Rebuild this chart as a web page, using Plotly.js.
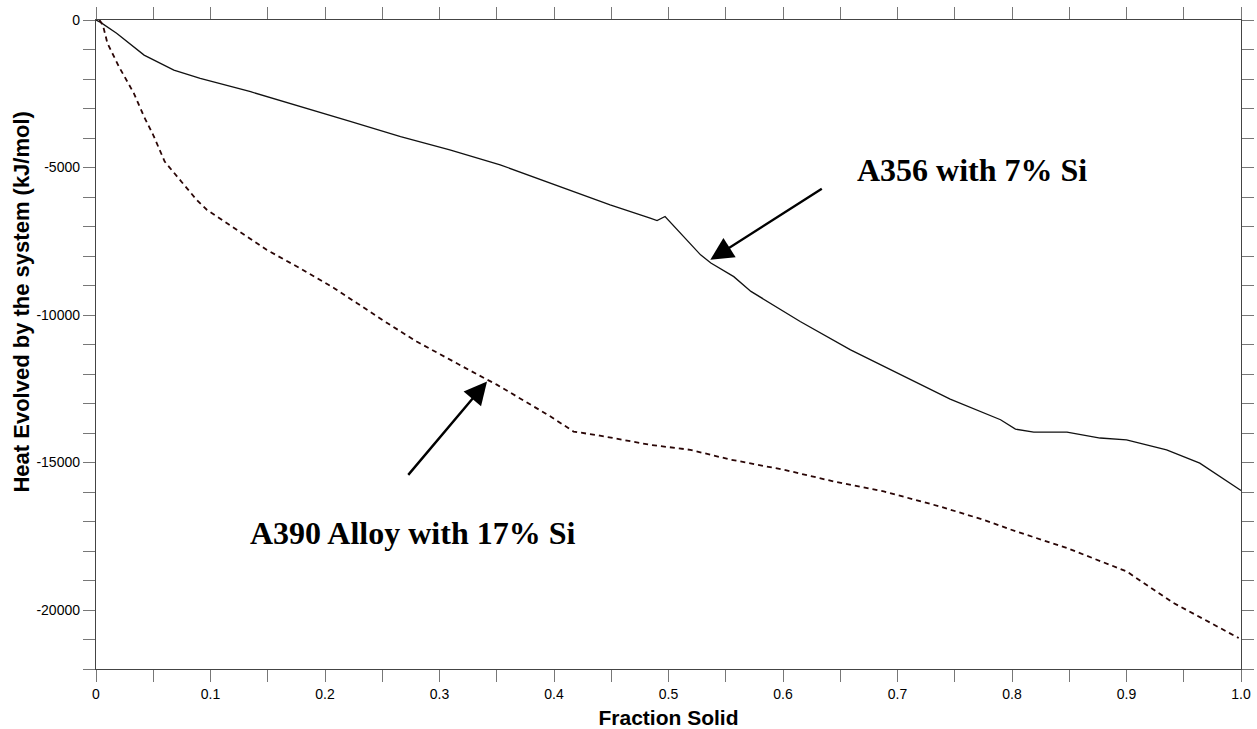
<!DOCTYPE html>
<html>
<head>
<meta charset="utf-8">
<script src="https://cdn.plot.ly/plotly-3.0.1.min.js"></script>
<style>html,body{margin:0;padding:0;background:#fff;}#chart{width:1257px;height:729px;}</style>
</head>
<body>
<div id="chart"></div>
<script>
// A356 with 7% Si (solid curve)
const a356_x = [0, 0.004, 0.018, 0.042, 0.068, 0.091, 0.135, 0.178, 0.222, 0.266, 0.309, 0.353, 0.397, 0.449, 0.484, 0.490, 0.497, 0.528, 0.537, 0.557, 0.572, 0.615, 0.659, 0.703, 0.746, 0.790, 0.803, 0.819, 0.848, 0.877, 0.900, 0.935, 0.964, 1.0];
const a356_y = [0, -80, -450, -1190, -1700, -1980, -2430, -2940, -3440, -3950, -4400, -4910, -5530, -6270, -6720, -6800, -6660, -7960, -8240, -8700, -9200, -10220, -11180, -12030, -12850, -13550, -13870, -13970, -13970, -14170, -14230, -14570, -15020, -15950];

// A390 Alloy with 17% Si (dashed curve)
const a390_x = [0.003, 0.006, 0.010, 0.020, 0.033, 0.042, 0.050, 0.060, 0.075, 0.088, 0.097, 0.123, 0.149, 0.178, 0.208, 0.228, 0.251, 0.280, 0.309, 0.339, 0.350, 0.397, 0.417, 0.440, 0.484, 0.519, 0.554, 0.600, 0.644, 0.688, 0.737, 0.775, 0.803, 0.848, 0.900, 0.941, 0.998];
const a390_y = [0, -170, -790, -1580, -2480, -3280, -3900, -4800, -5500, -6100, -6440, -7110, -7790, -8410, -9090, -9600, -10190, -10900, -11520, -12140, -12360, -13440, -13950, -14090, -14400, -14570, -14900, -15240, -15640, -15980, -16490, -16940, -17330, -17900, -18690, -19760, -20950];

const xTickVals = [0, 0.1, 0.2, 0.3, 0.4, 0.5, 0.6, 0.7, 0.8, 0.9, 1.0];
const xTickText = ["0", "0.1", "0.2", "0.3", "0.4", "0.5", "0.6", "0.7", "0.8", "0.9", "1.0"];
const yTickVals = [0, -5000, -10000, -15000, -20000];
const yTickText = ["0", "-5000", "-10000", "-15000", "-20000"];

const traces = [
  {x: a356_x, y: a356_y, type: 'scatter', mode: 'lines', name: 'A356',
   line: {color: '#111111', width: 1.3}},
  {x: a390_x, y: a390_y, type: 'scatter', mode: 'lines', name: 'A390',
   line: {color: '#2a0606', width: 1.8, dash: '5px,4px'}}
];

const axisCommon = {
  showgrid: false, zeroline: false, showline: true, mirror: 'ticks',
  linecolor: '#444', linewidth: 1.2, ticks: 'outside', ticklen: 12, tickwidth: 1, tickcolor: '#777',
  tickfont: {family: 'Liberation Sans, Arial, sans-serif', size: 14, color: '#000'}
};

const layout = {
  width: 1257, height: 729,
  margin: {l: 96, r: 16, t: 20, b: 60},
  paper_bgcolor: '#fff', plot_bgcolor: '#fff',
  showlegend: false,
  xaxis: Object.assign({}, axisCommon, {
    range: [0, 1], tickmode: 'array', tickvals: xTickVals, ticktext: xTickText,
    minor: {tickmode: 'linear', tick0: 0, dtick: 0.05, ticks: 'outside', ticklen: 12, tickwidth: 1, tickcolor: '#777'},
    title: {text: '<b>Fraction Solid</b>', font: {family: 'Liberation Sans, Arial, sans-serif', size: 21, color: '#000'}, standoff: 9}
  }),
  yaxis: Object.assign({}, axisCommon, {
    range: [-22000, 0], tickmode: 'array', tickvals: yTickVals, ticktext: yTickText,
    minor: {tickmode: 'linear', tick0: 0, dtick: 1000, ticks: 'outside', ticklen: 12, tickwidth: 1, tickcolor: '#777'}
  }),
  annotations: [
    {xref: 'paper', yref: 'paper', x: -0.065, y: 0.5655, xanchor: 'center', yanchor: 'middle',
     textangle: -90, showarrow: false, text: '<b>Heat Evolved by the system (kJ/mol)</b>',
     font: {family: 'Liberation Sans, Arial, sans-serif', size: 22, color: '#000'}},
    {xref: 'x', yref: 'y', x: 0.7653, y: -5081, xanchor: 'center', yanchor: 'middle', showarrow: false,
     text: '<b>A356 with 7% Si</b>', font: {family: 'Liberation Serif, Times New Roman, serif', size: 32, color: '#000'}},
    {xref: 'x', yref: 'y', x: 0.2767, y: -17378, xanchor: 'center', yanchor: 'middle', showarrow: false,
     text: '<b>A390 Alloy with 17% Si</b>', font: {family: 'Liberation Serif, Times New Roman, serif', size: 32, color: '#000'}},
    {xref: 'x', yref: 'y', x: 0.5365, y: -8130, axref: 'x', ayref: 'y', ax: 0.6352, ay: -5691,
     text: '', showarrow: true, arrowhead: 2, arrowsize: 1.9, arrowwidth: 2.4, arrowcolor: '#000'},
    {xref: 'x', yref: 'y', x: 0.3415, y: -12252, axref: 'x', ayref: 'y', ax: 0.2716, ay: -15470,
     text: '', showarrow: true, arrowhead: 2, arrowsize: 1.9, arrowwidth: 2.4, arrowcolor: '#000'}
  ]
};

Plotly.newPlot('chart', traces, layout, {displayModeBar: false, staticPlot: true});
</script>
</body>
</html>
